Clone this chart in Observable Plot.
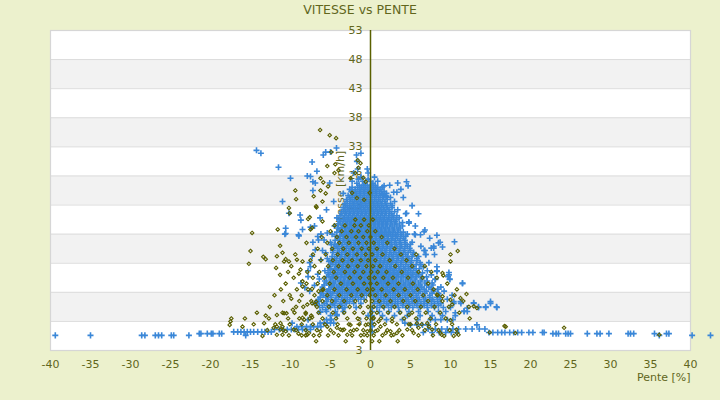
<!DOCTYPE html>
<html>
<head>
<meta charset="utf-8">
<script src="https://cdn.jsdelivr.net/npm/d3@7"></script>
<script src="https://cdn.jsdelivr.net/npm/@observablehq/plot@0.6"></script>
<style>
  html, body { margin: 0; padding: 0; background: #ECF1CD; }
  body { width: 720px; height: 400px; overflow: hidden; font-family: "DejaVu Sans", sans-serif; }
  #title { height: 20px; line-height: 20px; text-align: center; font-size: 12.5px; color: #61661c; }
</style>
</head>
<body>
<div id="title">VITESSE vs PENTE</div>
<div id="chart"></div>
<script>
// ---------- tick values / labels ----------
const xTicks = [-40, -35, -30, -25, -20, -15, -10, -5, 0, 5, 10, 15, 20, 25, 30, 35, 40];
const yGrid = [-2, 3, 8, 13, 18, 23, 28, 33, 38, 43, 48, 53];
const yTickLabels = ["3", "3", "8", "13", "18", "23", "28", "33", "38", "43", "48", "53"];
const grayBands = [[3, 8], [13, 18], [23, 28], [33, 38], [43, 48]];

// ---------- blue series: rows [speed, [slopes...]] ----------
const blueRows = [
  [29.2, [-1.6, -0.4]],
  [28.5, [-2.1, -0.3]],
  [27.8, [-1.2, 0.5]],
  [27.45, [-1.5, -0.3]],
  [27.1, [-2.3, -1.0, 0.0, 0.9]],
  [26.75, [-1.7, -0.7, 0.3]],
  [26.4, [-1.4, -0.9, -0.4, 0.1, 0.6, 2.4]],
  [26.05, [-2.3, -1.6, -1.1, -0.6, -0.1, 0.4, 0.9, 1.5]],
  [25.7, [-2.6, -1.9, -1.3, -0.8, -0.3, 0.2, 0.7, 1.3, 3.8]],
  [25.35, [-2.4, -1.9, -1.4, -0.9, -0.4, 0.1, 0.6, 1.1, 1.7]],
  [25.0, [-3.4, -2.2, -1.7, -1.2, -0.7, -0.2, 0.3, 0.8, 1.4, 2.0]],
  [24.65, [-2.8, -2.3, -1.8, -1.3, -0.8, -0.3, 0.2, 0.7, 1.2, 1.9]],
  [24.3, [-2.6, -2.0, -1.5, -1.0, -0.5, 0.0, 0.5, 1.0, 1.6, 2.5, 4.1]],
  [23.95, [-3.0, -2.5, -2.0, -1.5, -1.0, -0.5, 0.0, 0.5, 1.0, 1.5, 2.1]],
  [23.6, [-4.6, -2.9, -2.3, -1.8, -1.3, -0.8, -0.3, 0.2, 0.7, 1.2, 1.8, 3.0]],
  [23.25, [-3.2, -2.6, -2.1, -1.6, -1.1, -0.6, -0.1, 0.4, 0.9, 1.4, 1.9, 2.5]],
  [22.9, [-3.1, -2.6, -2.1, -1.6, -1.1, -0.6, -0.1, 0.4, 0.9, 1.4, 2.0, 2.7, 5.2]],
  [22.55, [-3.4, -2.9, -2.4, -1.9, -1.4, -0.9, -0.4, 0.1, 0.6, 1.1, 1.6, 2.1, 2.7]],
  [22.2, [-5.5, -3.3, -2.8, -2.3, -1.8, -1.3, -0.8, -0.3, 0.2, 0.7, 1.2, 1.7, 2.3, 3.4]],
  [21.85, [-3.6, -3.1, -2.6, -2.1, -1.6, -1.1, -0.6, -0.1, 0.4, 0.9, 1.4, 1.9, 2.4, 3.0]],
  [21.5, [-3.6, -3.0, -2.5, -2.0, -1.5, -1.0, -0.5, 0.0, 0.5, 1.0, 1.5, 2.0, 2.6, 4.4, 6.0]],
  [21.15, [-3.8, -3.2, -2.7, -2.2, -1.7, -1.2, -0.7, -0.2, 0.3, 0.8, 1.3, 1.8, 2.3, 2.8, 3.3]],
  [20.8, [-6.3, -4.2, -3.3, -2.8, -2.3, -1.8, -1.3, -0.8, -0.3, 0.2, 0.7, 1.2, 1.7, 2.3, 2.9, 3.6]],
  [20.45, [-3.9, -3.4, -2.9, -2.4, -1.9, -1.4, -0.9, -0.4, 0.1, 0.6, 1.1, 1.6, 2.1, 2.6, 3.2]],
  [20.1, [-3.8, -3.1, -2.6, -2.1, -1.6, -1.1, -0.6, -0.1, 0.4, 0.9, 1.4, 1.9, 2.5, 3.1, 4.8]],
  [19.75, [-4.0, -3.5, -3.0, -2.5, -2.0, -1.5, -1.0, -0.5, 0.0, 0.5, 1.0, 1.5, 2.0, 2.5, 3.0, 3.6]],
  [19.4, [-7.0, -4.5, -3.5, -2.9, -2.4, -1.9, -1.4, -0.9, -0.4, 0.1, 0.6, 1.1, 1.6, 2.1, 2.7, 3.3, 4.0, 5.6]],
  [19.05, [-4.1, -3.6, -3.1, -2.6, -2.1, -1.6, -1.1, -0.6, -0.1, 0.4, 0.9, 1.4, 1.9, 2.4, 3.0, 3.7]],
  [18.7, [-3.9, -3.2, -2.7, -2.2, -1.7, -1.2, -0.7, -0.2, 0.3, 0.8, 1.3, 1.8, 2.3, 2.9, 3.5, 6.8]],
  [18.35, [-4.2, -3.7, -3.2, -2.7, -2.2, -1.7, -1.2, -0.7, -0.2, 0.3, 0.8, 1.3, 1.8, 2.3, 2.8, 3.4, 4.1]],
  [18.0, [-6.2, -4.8, -3.6, -3.0, -2.5, -2.0, -1.5, -1.0, -0.5, 0.0, 0.5, 1.0, 1.5, 2.0, 2.5, 3.1, 3.8, 4.6, 5.5]],
  [17.65, [-4.3, -3.8, -3.3, -2.8, -2.3, -1.8, -1.3, -0.8, -0.3, 0.2, 0.7, 1.2, 1.7, 2.2, 2.7, 3.2, 3.8, 4.4]],
  [17.3, [-4.1, -3.4, -2.8, -2.3, -1.8, -1.3, -0.8, -0.3, 0.2, 0.7, 1.2, 1.7, 2.2, 2.8, 3.4, 4.1, 7.4]],
  [16.95, [-4.4, -3.9, -3.4, -2.9, -2.4, -1.9, -1.4, -0.9, -0.4, 0.1, 0.6, 1.1, 1.6, 2.1, 2.6, 3.1, 3.7, 4.3]],
  [16.6, [-7.2, -5.0, -3.8, -3.2, -2.6, -2.1, -1.6, -1.1, -0.6, -0.1, 0.4, 0.9, 1.4, 1.9, 2.4, 3.0, 3.6, 4.3, 5.2, 8.7]],
  [16.25, [-4.5, -4.0, -3.5, -2.9, -2.4, -1.9, -1.4, -0.9, -0.4, 0.1, 0.6, 1.1, 1.6, 2.1, 2.6, 3.2, 3.8, 4.4, 5.0]],
  [15.9, [-4.3, -3.6, -3.0, -2.4, -1.9, -1.4, -0.9, -0.4, 0.1, 0.6, 1.1, 1.6, 2.1, 2.7, 3.3, 3.9, 4.6, 6.3, 7.9]],
  [15.55, [-4.6, -4.1, -3.5, -3.0, -2.5, -2.0, -1.5, -1.0, -0.5, 0.0, 0.5, 1.0, 1.5, 2.0, 2.5, 3.1, 3.7, 4.3, 4.9]],
  [15.2, [-6.0, -4.7, -3.9, -3.3, -2.7, -2.2, -1.7, -1.2, -0.7, -0.2, 0.3, 0.8, 1.3, 1.8, 2.4, 3.0, 3.6, 4.2, 5.0, 6.8]],
  [14.85, [-4.7, -4.1, -3.6, -3.1, -2.6, -2.1, -1.6, -1.1, -0.6, -0.1, 0.4, 0.9, 1.4, 1.9, 2.4, 2.9, 3.5, 4.1, 4.7, 5.4]],
  [14.5, [-4.2, -3.6, -3.0, -2.5, -2.0, -1.5, -1.0, -0.5, 0.0, 0.5, 1.0, 1.5, 2.0, 2.6, 3.2, 3.8, 4.4, 5.3, 6.9, 8.0]],
  [14.15, [-4.8, -4.2, -3.7, -3.2, -2.7, -2.2, -1.7, -1.2, -0.7, -0.2, 0.3, 0.8, 1.3, 1.8, 2.3, 2.8, 3.4, 4.0, 4.6, 5.2, 6.0]],
  [13.8, [-5.4, -4.5, -3.8, -3.2, -2.7, -2.2, -1.7, -1.2, -0.7, -0.2, 0.3, 0.8, 1.3, 1.8, 2.3, 2.9, 3.5, 4.1, 4.8, 5.8]],
  [13.45, [-4.9, -4.3, -3.8, -3.3, -2.8, -2.3, -1.8, -1.3, -0.8, -0.3, 0.2, 0.7, 1.2, 1.7, 2.2, 2.7, 3.3, 3.9, 4.5, 5.1, 5.8]],
  [13.1, [-7.6, -4.7, -4.0, -3.4, -2.9, -2.4, -1.9, -1.4, -0.9, -0.4, 0.1, 0.6, 1.1, 1.6, 2.1, 2.6, 3.2, 3.8, 4.4, 5.1, 6.2, 7.3]],
  [12.75, [-5.0, -4.4, -3.9, -3.4, -2.9, -2.4, -1.9, -1.4, -0.9, -0.4, 0.1, 0.6, 1.1, 1.6, 2.1, 2.6, 3.2, 3.8, 4.4, 5.0, 5.7, 6.3]],
  [12.4, [-5.0, -4.2, -3.6, -3.1, -2.6, -2.1, -1.6, -1.1, -0.6, -0.1, 0.4, 0.9, 1.4, 1.9, 2.4, 2.9, 3.5, 4.1, 4.7, 5.4, 6.6, 8.3]],
  [12.05, [-5.1, -4.5, -4.0, -3.5, -3.0, -2.5, -2.0, -1.5, -1.0, -0.5, 0.0, 0.5, 1.0, 1.5, 2.0, 2.5, 3.0, 3.6, 4.2, 4.8, 5.4, 6.1]],
  [11.7, [-7.8, -5.7, -4.5, -3.8, -3.3, -2.8, -2.3, -1.8, -1.3, -0.8, -0.3, 0.2, 0.7, 1.2, 1.7, 2.2, 2.7, 3.2, 3.8, 4.4, 5.0, 5.7, 7.1, 8.3]],
  [11.35, [-5.3, -4.7, -4.1, -3.6, -3.1, -2.6, -2.1, -1.6, -1.1, -0.6, -0.1, 0.4, 0.9, 1.4, 1.9, 2.4, 2.9, 3.4, 4.0, 4.6, 5.2, 5.8, 6.5]],
  [11.0, [-5.2, -4.3, -3.6, -3.0, -2.5, -2.0, -1.5, -1.0, -0.5, 0.0, 0.5, 1.0, 1.5, 2.0, 2.5, 3.0, 3.5, 4.1, 4.7, 5.3, 6.0, 7.6, 9.8]],
  [10.65, [-5.5, -4.8, -4.2, -3.7, -3.2, -2.7, -2.2, -1.7, -1.2, -0.7, -0.2, 0.3, 0.8, 1.3, 1.8, 2.3, 2.8, 3.3, 3.9, 4.5, 5.1, 5.7, 6.4, 7.0]],
  [10.3, [-6.4, -5.0, -4.1, -3.4, -2.8, -2.3, -1.8, -1.3, -0.8, -0.3, 0.2, 0.7, 1.2, 1.7, 2.2, 2.7, 3.2, 3.8, 4.4, 5.0, 5.6, 6.4, 8.1, 9.9]],
  [9.95, [-5.7, -5.0, -4.4, -3.8, -3.3, -2.8, -2.3, -1.8, -1.3, -0.8, -0.3, 0.2, 0.7, 1.2, 1.7, 2.2, 2.7, 3.2, 3.8, 4.4, 5.0, 5.6, 6.3, 7.1]],
  [9.6, [-8.7, -5.5, -4.6, -3.9, -3.3, -2.7, -2.1, -1.6, -1.1, -0.6, -0.1, 0.4, 0.9, 1.4, 1.9, 2.4, 2.9, 3.5, 4.1, 4.7, 5.3, 6.0, 6.8, 7.7, 11.5]],
  [9.25, [-5.8, -5.1, -4.5, -3.9, -3.4, -2.9, -2.4, -1.9, -1.4, -0.9, -0.4, 0.1, 0.6, 1.1, 1.6, 2.1, 2.6, 3.1, 3.7, 4.3, 4.9, 5.5, 6.2, 7.0, 7.8]],
  [8.9, [-6.0, -4.9, -4.2, -3.6, -3.0, -2.4, -1.9, -1.4, -0.9, -0.4, 0.1, 0.6, 1.1, 1.6, 2.1, 2.6, 3.2, 3.8, 4.4, 5.0, 5.7, 6.4, 7.3, 8.8]],
  [8.55, [-6.0, -5.2, -4.6, -4.0, -3.5, -2.9, -2.4, -1.9, -1.4, -0.9, -0.4, 0.1, 0.6, 1.1, 1.6, 2.1, 2.7, 3.3, 3.9, 4.5, 5.2, 5.9, 6.7, 7.6, 8.4]],
  [8.2, [-7.6, -5.4, -4.5, -3.8, -3.2, -2.6, -2.1, -1.6, -1.1, -0.6, -0.1, 0.4, 0.9, 1.4, 1.9, 2.4, 2.9, 3.5, 4.1, 4.8, 5.5, 6.2, 7.0, 7.9, 9.2]],
  [7.85, [-6.2, -5.4, -4.7, -4.1, -3.5, -2.9, -2.3, -1.8, -1.3, -0.8, -0.2, 0.4, 1.0, 1.6, 2.2, 2.8, 3.4, 4.0, 4.6, 5.3, 6.0, 6.8, 7.7, 8.5]],
  [7.5, [-5.9, -5.0, -4.2, -3.5, -2.9, -2.3, -1.7, -1.1, -0.5, 0.2, 0.8, 1.3, 1.9, 2.5, 3.1, 3.7, 4.3, 5.0, 5.7, 6.5, 7.4, 8.6, 10.2]],
  [7.15, [-6.3, -5.6, -4.9, -4.0, -3.2, -2.5, -1.9, -1.2, 0.7, 1.3, 1.9, 2.5, 3.1, 3.7, 4.4, 5.1, 5.8, 6.6, 7.4, 8.3]],
  [6.8, [-6.5, -5.3, -4.4, -3.6, -2.9, -2.2, -1.5, -0.8, 0.4, 1.0, 1.6, 2.2, 2.8, 3.4, 4.0, 4.7, 5.4, 6.1, 6.9, 7.8, 8.7, 9.6]],
  [6.45, [-6.5, -5.5, -4.3, -3.4, -2.6, 0.9, 1.7, 2.4, 3.1, 3.8, 4.5, 5.2, 5.9, 6.7, 7.6, 8.4]],
  [6.1, [-6.9, -5.8, -4.7, -3.8, -3.0, -2.1, -1.2, 0.5, 1.3, 2.0, 2.7, 3.4, 4.1, 4.8, 5.5, 6.3, 7.1, 8.0, 8.8, 10.4, 11.3, 12.9, 15.0]],
  [5.75, [-6.4, -5.4, -4.5, -3.6, 1.2, 2.2, 3.1, 4.0, 4.9, 5.8, 6.7, 7.6, 8.5]],
  [5.4, [-6.0, -5.0, -4.1, -3.2, -1.8, 0.2, 0.8, 1.7, 2.6, 3.5, 4.4, 5.3, 6.2, 7.1, 8.0, 9.1, 10.0, 13.5, 14.4, 15.8]],
  [4.7, [-6.3, -5.5, -4.4, -3.4, 0.2, 1.1, 2.3, 3.6, 4.8, 6.0, 7.2, 8.5, 9.4, 11.7, 12.1]],
  [4.0, [-5.0, -4.2, -0.3, 0.2, 1.5, 3.0, 4.6, 6.2, 7.7, 9.0, 10.6]],
  [3.3, [-7.8, -5.5, -4.9, 0.2, 2.0, 4.0, 5.9, 7.5, 8.1, 8.8, 9.6, 10.3]],
  [2.7, [-9.8, -6.3, -5.8, -5.4, -5.0, -4.6, 0.2, 4.3]],
  [2.4, [5.0, 5.8, 6.5, 7.2, 13.3]],
  [2.1, [-9.2, -8.6, -8.0, -7.5, -7.1, -6.6, -6.2, 0.2]],
  [1.7, [7.2, 8.1, 8.9, 9.6, 10.3, 11.0, 11.9, 12.7, 13.6, 14.3]],
  [1.6, [-12.0, -11.4, -10.9, -10.4, -9.9, -9.5, -9.0, -8.5, -8.0, -7.5]],
  [1.2, [-17.1, -16.6, -16.2, -15.8, -15.4, -15.0, -14.6, -14.1, -13.6, -13.2, -12.8, -12.4, 0.2]],
  [1.1, [6.6, 7.7, 8.6, 9.4, 10.1, 10.8, 14.8, 15.3, 15.9, 16.4, 16.8, 17.4, 17.9, 18.4, 18.9, 19.8, 20.3, 21.5, 21.7]],
  [0.9, [-21.4, -21.2, -20.4, -19.9, -19.7, -18.9, -18.6, 22.8, 23.2, 23.5, 24.4, 24.7, 25.0, 27.1, 28.3, 28.7, 29.8, 32.2, 32.5, 32.9, 35.5, 37.0, 37.3]],
  [0.6, [-39.4, -35.0, -28.6, -28.2, -26.9, -26.5, -26.1, -24.9, -24.6, -22.7, -15.6, 36.1, 40.2, 42.5]]
];

// blue isolated points [slope, speed]
const blueExtra = [
  [-14.25, 32.4], [-13.7, 31.9], [-11.5, 29.5], [-10, 27.6], [-11, 23.6], [-7.9, 28], [-7.5, 27.9],
  [-7.3, 30.4], [-6.7, 28.8], [-5.9, 31.6], [-5.6, 32.1], [-5, 32.1], [-4.25, 32.8], [-7.2, 27],
  [-6.9, 26.8], [-5.1, 26.8], [-7.2, 25.5], [-8.8, 21.3], [-8.7, 20.4], [-10.6, 19], [-10.7, 18],
  [-8.95, 17.7], [-8.5, 18.8], [-7.5, 19.2], [-10.2, 21.6], [-1.75, 31.6], [-1.7, 30.5], [-1.2, 31.9],
  [1.7, 26.3], [3.4, 26.8], [4.5, 27], [4.7, 26.3], [2.9, 25.2], [3.3, 25.2], [1.5, 24.8], [2, 24.5],
  [4.5, 21.6], [4, 20], [4.8, 19.9], [6.7, 18.4], [8.3, 17.8], [6.25, 17.9], [5.6, 17.9], [8.5, 16.5],
  [9, 15.8], [10.5, 16.7], [7.6, 15.6], [7.9, 15.6], [6.7, 15.2], [6.9, 14.5], [9.8, 11.4], [9.9, 10.2],
  [9.7, 10.7], [11.5, 9.5], [8.3, 11.6], [8.1, 10.2], [10.4, 6.4], [11.25, 6.4], [12.9, 6.2], [13.5, 5.5],
  [14.4, 5.5], [15, 6.4], [15.75, 5.5], [11.7, 4.8], [12.1, 5.3], [10.6, 4.5],
  [-5, 3.3], [-4.2, 4.2], [-3.5, 5.3], [-3.1, 6.4], [-2.7, 7.9], [-2.3, 9.6], [-1.7, 11.9],
  [-6.25, 4.6], [-5.6, 5], [-5, 5.9], [-4.4, 6.7], [-3.75, 8.1], [-3.3, 9.6],
  [-5.4, 7.4], [-5, 8.1], [-4.8, 9.3], [-4.6, 10.7], [-4.4, 11.9],
  [-7.8, 10.7], [-7.5, 12.4], [-6.9, 15.3], [-6.5, 17], [-6.6, 17.6], [-9, 17.9], [-10.6, 18.1],
  [-5.4, 18.2], [-5.8, 17], [-5.6, 14.8], [-5.2, 13.3], [-5, 11.9], [-4.9, 16.2],
  [-7.0, 9.2], [-6.6, 11.1], [-6.2, 13.6], [-7.3, 14.2], [-6.1, 7.8], [-8.2, 8.8]
];

// ---------- olive series: rows [speed, [slopes...]] ----------
const oliveRows = [
  [20.5, [-1.9, -0.8, 0.3]],
  [19.5, [-4.5, -3.2, -2.0, -1.2, -0.2]],
  [18.5, [-5.0, -3.6, -2.4, -1.5, -0.4, 0.6]],
  [17.5, [-6.1, -4.2, -3.0, -1.8, -0.9, 0.0, 1.4]],
  [16.5, [-8.0, -5.4, -3.9, -2.7, -1.5, -0.5, 0.4, 2.1]],
  [15.5, [-6.6, -4.8, -3.4, -2.2, -1.1, -0.2, 0.8, 3.0]],
  [14.5, [-9.4, -7.2, -5.6, -4.1, -2.9, -1.7, -0.6, 0.2, 1.5, 3.8, 5.7]],
  [13.5, [-7.5, -6.2, -4.7, -3.5, -2.3, -1.2, -0.3, 0.6, 2.4, 4.5]],
  [12.5, [-9.9, -7.0, -5.3, -4.0, -2.8, -1.6, -0.5, 0.3, 1.2, 3.1, 5.2, 6.8]],
  [11.5, [-10.3, -7.9, -6.4, -4.6, -3.2, -2.0, -0.9, 0.1, 0.9, 2.0, 3.9, 6.0, 7.6]],
  [10.5, [-9.6, -7.2, -5.8, -4.3, -2.6, -1.3, -0.2, 0.5, 1.6, 2.8, 4.7, 6.5, 8.3]],
  [9.5, [-10.6, -8.0, -6.6, -5.1, -3.7, -2.2, -0.8, 0.0, 0.8, 2.2, 3.5, 5.3, 7.2, 9.6]],
  [8.5, [-11.2, -9.2, -7.8, -5.9, -4.5, -3.0, -1.6, -0.4, 0.3, 1.4, 2.9, 4.3, 5.9, 7.9, 10.8]],
  [7.5, [-12.0, -10.1, -8.6, -7.0, -5.4, -3.9, -2.4, -1.1, -0.1, 0.6, 1.9, 3.5, 5.0, 6.6, 8.4, 10.5]],
  [6.5, [-10.9, -8.9, -7.4, -6.0, -4.8, -3.3, -1.9, -0.6, 0.2, 1.1, 2.5, 4.1, 5.6, 7.2, 9.0, 11.6]],
  [5.5, [-12.6, -9.3, -8.4, -6.7, -5.2, -3.9, -2.6, -1.3, -0.3, 0.4, 1.6, 3.0, 4.6, 6.3, 8.0, 9.8, 12.3]],
  [4.5, [-14.2, -11.0, -9.5, -8.1, -6.5, -4.7, -3.3, -2.0, -0.9, 0.1, 0.8, 2.2, 3.7, 5.2, 6.9, 8.7, 11.1]],
  [3.5, [-15.7, -12.7, -10.3, -8.9, -7.6, -6.0, -4.3, -2.9, -1.6, -0.5, 0.3, 1.3, 2.7, 4.2, 5.7, 7.5, 9.4, 12.4]],
  [2.5, [-14.6, -11.9, -10.1, -8.6, -7.2, -5.7, -4.1, -2.7, -1.4, -0.3, 0.5, 1.8, 3.3, 4.8, 6.4, 8.2, 10.2]],
  [1.5, [-12.9, -10.9, -9.3, -8.1, -6.7, -5.0, -3.5, -2.1, -0.9, 0.0, 0.9, 2.1, 3.6, 5.2, 6.8, 8.5, 9.9]],
  [0.6, [-10.2, -8.6, -6.4, -5.3, -4.0, -2.3, -1.2, -0.4, 0.4, 1.5, 2.6, 4.0, 6.0, 7.8]],
  [-0.4, [-6.8, -3.1, -1.0, 0.2, 1.1, 3.4]]
];

// olive isolated points [slope, speed]
const oliveExtra = [
  [-6.3, 35.9], [-5.1, 35], [-4.3, 34.5], [-4.9, 32.1], [-5.4, 29.7], [-4.4, 30], [-4.5, 28.5],
  [-6.25, 27.6], [-9.4, 25.5], [-9.3, 24], [-6.8, 22.8], [-6.75, 22.6], [-6.25, 25.5], [-5.6, 25],
  [-6, 23.6], [-5.3, 26.2], [-10.2, 22.5], [-10.1, 21.6], [-7.8, 20.6], [-7.6, 20.9], [-11.6, 18.8],
  [-14.8, 18.2], [-6, 20.2], [-7.5, 18.8], [-7.3, 19.1], [-11.3, 16], [-15, 15.1], [-11, 14.8],
  [-11.7, 14.2], [-13.4, 14.1], [-13.1, 13.7], [-15.2, 12.9], [-10.6, 13.7], [-10.8, 13.3],
  [-10.2, 13.3], [-9.2, 13.6], [-8.5, 13.3], [-11.8, 12.2], [-11.3, 11], [-8.75, 11.9], [-8.95, 11.2],
  [-8.5, 9.9], [-8.5, 9], [-7.3, 8.6], [-9.9, 6.9], [-6.5, 8.2], [-6, 8.4], [-7.9, 5.9], [-6.8, 6.4],
  [-9.7, 5], [-10.8, 4.4], [-10.5, 4.4], [-13.1, 4], [-11.7, 4.1], [-7.4, 4], [-7.3, 3.7], [-8.3, 3.3],
  [-11.25, 2.7], [-17.5, 3], [-17.4, 3.5], [-17.6, 2.4], [-16, 2.1], [-13.5, 0.5], [-13.3, 2.7],
  [-12.1, 1.9], [-11.25, 1.6], [-10.6, 1.3], [-9.6, 1.6], [-7.9, 0.7], [-7.1, 0.6], [-9, 0.9],
  [-4.6, 1], [-3.75, 1.6], [-2.9, 0.7], [-2.5, 1.3], [-1.7, 1.6], [-0.8, 0.7], [-11.7, 2.1], [-11, 2.1],
  [-11.7, 0.7], [-11, 0.7], [-8.1, 0.6], [-7.7, 1], [-8.5, 3.6], [-8.1, 4.3], [-7.3, 6.1], [-6.9, 5.9],
  [-6.25, 1.3], [-5.4, 2.1], [-4.2, 1.9], [-3.3, 1.6], [-2.5, 2.4],
  [-2.5, 27.6], [-1.9, 28.5], [-1.5, 29.4], [-1.25, 30.2], [-2.3, 25.1], [-1.7, 24.2], [-0.8, 23.9],
  [-1.6, 30.7], [-0.9, 27.7], [-0.6, 27], [-0.1, 25.1], [-5.9, 26.9], [-7.1, 24.5], [-4, 29],
  [-0.6, 2.4], [-0.4, 1.3], [0.6, 1.3], [1.25, 2.1], [1.9, 1], [2.5, 1.3], [2.9, 0.7], [3.3, 1],
  [0.4, 3.6], [1, 3], [2.7, 3], [4.6, 1.6], [5.4, 1], [7.1, 2.7], [8.75, 1], [10.8, 1], [12.9, 5.6],
  [14.9, 1.1], [16.75, 2.2], [18.1, 1], [24.2, 1.9], [36.1, 0.7], [10, 14.5], [10, 13.3], [10.9, 15.1],
  [9, 11.3], [9.1, 10.9], [12, 7.7], [8.3, 7.6], [9, 7.3], [11.25, 7], [10, 6.7], [10.2, 5.9],
  [13.3, 5.3], [10, 3.2], [10.75, 1.6], [11, 0.7], [10.4, 0.5], [8.9, 0.7], [9.2, 0.5], [7.3, 2.1],
  [7.7, 1.6], [5.8, 2.7], [6, 1.9], [4.8, 4.1], [5, 2.5], [16.9, 2.1]
];

// ---------- build tables ----------
const toPoints = (rows, extra) =>
  rows.flatMap(([v, xs]) => xs.map(x => ({x, v}))).concat(extra.map(([x, v]) => ({x, v})));
const blue = toPoints(blueRows, blueExtra);
const olive = toPoints(oliveRows, oliveExtra);

const TXT = "#61661c";
const AXIS = "#5a6000";
const BLUE = "#3a87d8";
const OLIVE = "#5a5f00";

const chart = Plot.plot({
  width: 720,
  height: 380,
  marginTop: 10,
  marginBottom: 50,
  marginLeft: 50,
  marginRight: 30,
  style: {background: "transparent", fontFamily: "DejaVu Sans, sans-serif", fontSize: "11px", color: TXT, overflow: "visible"},
  x: {domain: [-40, 40], ticks: xTicks, tickSize: 0, tickPadding: 10, label: null, tickFormat: d => String(d)},
  y: {domain: [-2, 53], axis: null},
  marks: [
    Plot.frame({fill: "white"}),
    Plot.rect(grayBands, {y1: d => d[0], y2: d => d[1], fill: "#f2f2f2"}),
    Plot.ruleY(yGrid, {stroke: "#dcdcdc", strokeWidth: 1}),
    Plot.frame({stroke: "#d6d6d6", strokeWidth: 1.2}),
    Plot.text(yGrid, {x: 0, y: d => d, text: (d, i) => yTickLabels[i], dx: -8, textAnchor: "end", fill: TXT, fontSize: 11}),
    Plot.text(["Vitesse [km/h]"], {x: 0, y: 25.5, text: d => d, dx: -30, rotate: -90, fill: TXT, fontSize: 11}),
    Plot.dot(blue, {x: "x", y: "v", symbol: "plus", r: 2.1, stroke: BLUE, strokeWidth: 1.6}),
    Plot.dot(olive, {x: "x", y: "v", symbol: "diamond2", r: 1.6, stroke: OLIVE, strokeWidth: 1.1}),
    Plot.ruleX([0], {stroke: AXIS, strokeWidth: 1.5}),
    Plot.text(["Pente [%]"], {frameAnchor: "bottom-right", text: d => d, dy: 30, textAnchor: "end", fill: TXT, fontSize: 11})
  ]
});
document.getElementById("chart").appendChild(chart);
</script>
</body>
</html>
